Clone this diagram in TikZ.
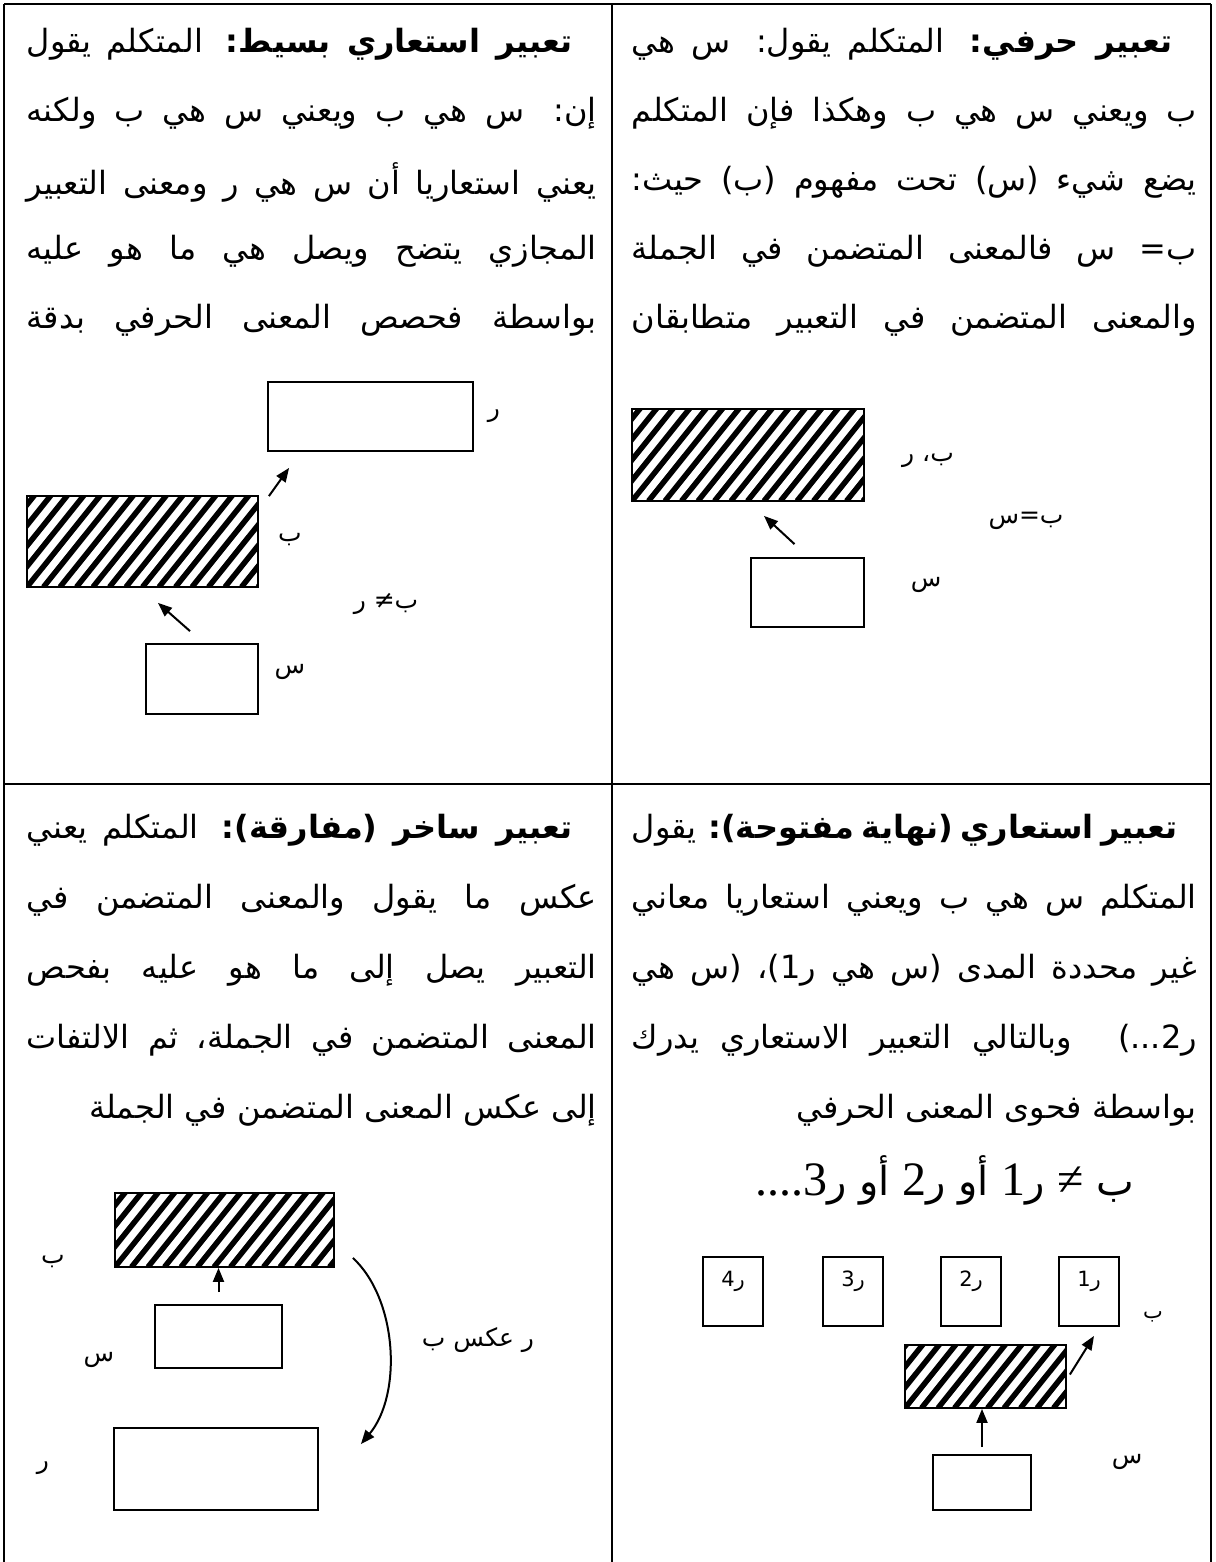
\documentclass[tikz,border=0pt]{standalone}
\usepackage{fontspec}
\setmainfont{DejaVu Sans}
\newfontfamily\arabicfont[Script=Arabic]{DejaVu Sans}
\newfontfamily\seriffont{Liberation Serif}
\TeXXeTstate=1
\usetikzlibrary{arrows.meta,calc,fit}
\newcommand{\serifbig}{\seriffont\fontsize{48}{50}\selectfont}
\tikzset{
  tablerule/.style={line width=2.6pt},
  plainbox/.style={draw,line width=1.8pt,inner sep=0pt},
  hatchbox/.style={draw,line width=1.8pt,inner sep=0pt,
    path picture={
      \foreach \k in {-12,...,16}{
        \draw[line width=5.5pt] ([xshift={\k*16.5pt}]path picture bounding box.south west) -- ++(125pt,156pt);
      }}},
  arr/.style={line width=2pt,-{Triangle[length=14pt,width=11pt]}},
  txt/.style={inner sep=0pt,font=\fontsize{32}{38}\selectfont},
  bigtxt/.style={inner sep=0pt,font=\fontsize{40}{46}\selectfont},
  lab/.style={inner sep=0pt,font=\fontsize{25}{30}\selectfont},
  boxlab/.style={inner sep=0pt,font=\fontsize{21}{25}\selectfont}
}
\newcommand{\jrow}[4]{\node[txt,anchor=east] (#1) at (#2) {\makebox[#3pt][s]{\arabicfont\beginR #4\endR}};}
\newcommand{\rrow}[3]{\node[txt,anchor=east] (#1) at (#2) {\arabicfont\beginR #3\endR};}
\newcommand{\alab}[4]{\node[#1] (#2) at (#3) {\arabicfont\beginR #4\endR};}
\begin{document}
\begin{tikzpicture}[x=1pt,y=-1pt]
\useasboundingbox (0,0) rectangle (1215,1562);
\fill[white] (0,0) rectangle (1215,1562);
% table rules
\draw[tablerule] (4,4) -- (1211,4);
\draw[tablerule] (4,784) -- (1211,784);
\draw[tablerule] (4,4) -- (4,1562);
\draw[tablerule] (612,4) -- (612,1562);
\draw[tablerule] (1211,4) -- (1211,1562);

% ---------- top right text
\jrow{tr1}{1173,44}{541}{{\bfseries تعبير حرفي:} المتكلم يقول: س هي}
\jrow{tr2}{1197,113}{565}{ب ويعني س هي ب وهكذا فإن المتكلم}
\jrow{tr3}{1197,182}{565}{يضع شيء (س) تحت مفهوم (ب) حيث:}
\jrow{tr4}{1197,251}{565}{ب= س فالمعنى المتضمن في الجملة}
\jrow{tr5}{1197,320}{565}{والمعنى المتضمن في التعبير متطابقان}

% ---------- top left text
\jrow{tl1}{573,44}{546}{{\bfseries تعبير استعاري بسيط:} المتكلم يقول}
\jrow{tl2}{597,113}{570}{إن: س هي ب ويعني س هي ب ولكنه}
\jrow{tl3}{597,182}{570}{يعني استعاريا أن س هي ر ومعنى التعبير}
\jrow{tl4}{597,251}{570}{المجازي يتضح ويصل هي ما هو عليه}
\jrow{tl5}{597,320}{570}{بواسطة فحصص المعنى الحرفي بدقة}

% ---------- bottom right text
\jrow{br1}{1173,830}{541}{{\bfseries تعبير استعاري (نهاية مفتوحة):} يقول}
\jrow{br2}{1197,900}{565}{المتكلم س هي ب ويعني استعاريا معاني}
\jrow{br3}{1197,970}{565}{غير محددة المدى (س هي ر1)، (س هي}
\jrow{br4}{1197,1040}{565}{ر2...) وبالتالي التعبير الاستعاري يدرك}
\rrow{br5}{1197,1110}{بواسطة فحوى المعنى الحرفي}
\node[bigtxt] (br6) at (945,1180) {\arabicfont\beginR ب {\serifbig ≠} ر{\serifbig 1} أو ر{\serifbig 2} أو ر{\serifbig 3}\kern0pt{\serifbig ....}\endR};

% ---------- bottom left text
\jrow{bl1}{573,830}{546}{{\bfseries تعبير ساخر (مفارقة):} المتكلم يعني}
\jrow{bl2}{597,900}{570}{عكس ما يقول والمعنى المتضمن في}
\jrow{bl3}{597,970}{570}{التعبير يصل إلى ما هو عليه بفحص}
\jrow{bl4}{597,1040}{570}{المعنى المتضمن في الجملة، ثم الالتفات}
\rrow{bl5}{597,1110}{إلى عكس المعنى المتضمن في الجملة}

% ---------- top right diagram
\node[hatchbox,fit={(632,409) (864,501)}] (trH) {};
\node[plainbox,fit={(751,558) (864,627)}] (trS) {};
\draw[arr] ($(trS.north)+(-13,-13)$) -- ($(trH.south)+(16,14)$);
\alab{lab}{trL1}{928,460}{ب، ر}
\alab{lab}{trL2}{1026,521}{ب=س}
\alab{lab}{trL3}{926,585}{س}

% ---------- top left diagram
\node[plainbox,fit={(268,382) (473,451)}] (tlR) {};
\node[hatchbox,fit={(27,496) (258,587)}] (tlH) {};
\node[plainbox,fit={(146,644) (258,714)}] (tlS) {};
\draw[arr] ($(tlH.north east)+(10,1)$) -- ($(tlR.south west)+(22,16)$);
\draw[arr] ($(tlS.north)+(-12,-12)$) -- ($(tlH.south)+(15.5,15)$);
\alab{lab}{tlL1}{494,416}{ر}
\alab{lab}{tlL2}{290,540}{ب}
\alab{lab}{tlL3}{386,604}{ب≠ ر}
\alab{lab}{tlL4}{290,672}{س}

% ---------- bottom left diagram
\node[hatchbox,fit={(115,1193) (334,1267)}] (blH) {};
\node[plainbox,fit={(155,1305) (282,1368)}] (blS) {};
\node[plainbox,fit={(114,1428) (318,1510)}] (blR) {};
\draw[arr] ($(blS.north)+(0,-12)$) -- (blS.north |- blH.south);
\draw[arr] ($(blH.south east)+(18,-10)$) .. controls (398,1300) and (402,1395) .. ($(blR.north east)+(42,17)$);
\alab{lab}{blL1}{53,1262}{ب}
\alab{lab}{blL2}{99,1360}{س}
\alab{lab}{blL3}{43,1468}{ر}
\alab{lab}{blL4}{478,1340}{ر عكس ب}

% ---------- bottom right diagram
\node[plainbox,fit={(703,1257) (763,1326)}] (r4) {};
\node[plainbox,fit={(823,1257) (883,1326)}] (r3) {};
\node[plainbox,fit={(941,1257) (1001,1326)}] (r2) {};
\node[plainbox,fit={(1059,1257) (1119,1326)}] (r1) {};
\alab{boxlab}{r4l}{733,1281}{ر4}
\alab{boxlab}{r3l}{853,1281}{ر3}
\alab{boxlab}{r2l}{971,1281}{ر2}
\alab{boxlab}{r1l}{1089,1281}{ر1}
\node[hatchbox,fit={(905,1345) (1066,1408)}] (brH) {};
\node[plainbox,fit={(933,1455) (1031,1510)}] (brS) {};
\draw[arr] ($(brS.north)+(0,-7)$) -- (brS.north |- brH.south);
\draw[arr] ($(brH.east)+(3,-2)$) -- ($(r1.south)+(5,9)$);
\alab{boxlab}{brL1}{1153,1317}{ب}
\alab{lab}{brL2}{1127,1462}{س}
\end{tikzpicture}
\end{document}
